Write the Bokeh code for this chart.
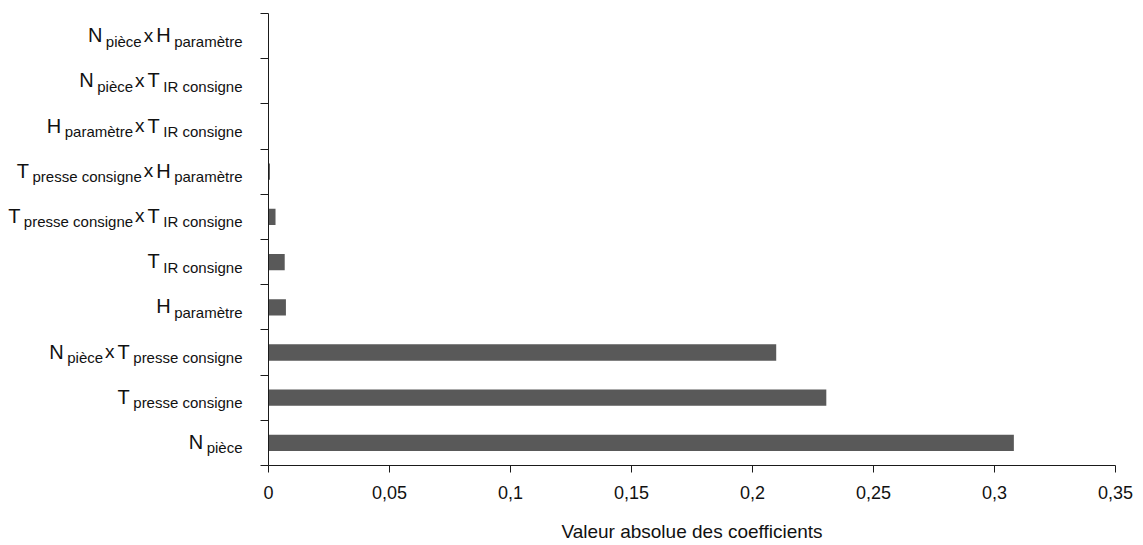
from bokeh.plotting import figure
from bokeh.layouts import row
from bokeh.models import Range1d, FixedTicker, CustomJSTickFormatter, ColumnDataSource
from bokeh.core.properties import value
from bokeh.embed import file_html
from bokeh.resources import INLINE

# ---------------- data (bottom category first) ----------------
terms = [
    [("N", "pièce")],
    [("T", "presse consigne")],
    [("N", "pièce"), ("T", "presse consigne")],
    [("H", "paramètre")],
    [("T", "IR consigne")],
    [("T", "presse consigne"), ("T", "IR consigne")],
    [("T", "presse consigne"), ("H", "paramètre")],
    [("H", "paramètre"), ("T", "IR consigne")],
    [("N", "pièce"), ("T", "IR consigne")],
    [("N", "pièce"), ("H", "paramètre")],
]
coefficients = [0.308, 0.2305, 0.2098, 0.0072, 0.0067, 0.0029, 0.0006, 0.0, 0.0, 0.0]
x_ticks = [0, 0.05, 0.1, 0.15, 0.2, 0.25, 0.3, 0.35]
x_max = 0.35
x_title = "Valeur absolue des coefficients"

# ---------------- style ----------------
FONT = "Liberation Sans"
MAIN = 20
SUB = 15
CROSS = 19
TXT = "#111111"
BAR = "#595959"
AX = "#1a1a1a"

LABEL_W = 258      # width of the label panel
AXIS_GAP = 10      # left border of the chart (room for the y ticks)
TOP = 13
FRAME_H = 452
BOTTOM = 80

n = len(terms)
y_pos = [i + 0.5 for i in range(n)]
y_range = Range1d(0, n)

# ---------------- chart ----------------
p = figure(
    frame_width=847, frame_height=FRAME_H,
    x_range=Range1d(0, x_max), y_range=y_range,
    output_backend="svg", toolbar_location=None,
    min_border_left=AXIS_GAP, min_border_top=TOP, min_border_right=25,
    min_border_bottom=BOTTOM,
)
p.outline_line_color = None
p.grid.visible = False
p.background_fill_color = "white"
p.border_fill_color = "white"

p.hbar(y=y_pos, right=coefficients, left=0, height=0.36, fill_color=BAR, line_color=None)

xa = p.xaxis[0]
xa.ticker = FixedTicker(ticks=x_ticks)
xa.formatter = CustomJSTickFormatter(code="""
    const s = (Math.round(tick * 100) / 100).toString();
    return s.replace('.', ',');
""")
xa.minor_tick_line_color = None
xa.major_tick_out = 7
xa.major_tick_in = 0
xa.major_label_standoff = 13
xa.major_label_text_font = FONT
xa.major_label_text_font_size = "18px"
xa.major_label_text_color = TXT
xa.axis_line_color = AX
xa.major_tick_line_color = AX
xa.axis_label = x_title
xa.axis_label_text_font = FONT
xa.axis_label_text_font_size = "19px"
xa.axis_label_text_font_style = "normal"
xa.axis_label_text_color = TXT
xa.axis_label_standoff = 19

ya = p.yaxis[0]
ya.ticker = FixedTicker(ticks=list(range(n + 1)))
ya.formatter = CustomJSTickFormatter(code="return '';")
ya.major_label_standoff = 0
ya.minor_tick_line_color = None
ya.major_tick_out = 8
ya.major_tick_in = 0
ya.axis_line_color = AX
ya.major_tick_line_color = AX

# ---------------- category labels (with subscripts) ----------------
lab = figure(
    frame_width=LABEL_W, frame_height=FRAME_H,
    x_range=Range1d(-LABEL_W, 0), y_range=y_range,
    output_backend="svg", toolbar_location=None,
    x_axis_type=None, y_axis_type=None,
    min_border_left=0, min_border_right=0, min_border_top=TOP,
    min_border_bottom=BOTTOM,
)
lab.outline_line_color = None
lab.background_fill_color = "white"
lab.border_fill_color = "white"

WID = {'N': .722, 'T': .611, 'H': .722, 'x': .5, ' ': .278, 'p': .556, 'i': .222,
       'è': .556, 'c': .5, 'e': .556, 'r': .333, 's': .5, 'o': .556, 'n': .556,
       'g': .556, 'I': .278, 'R': .722, 'a': .556, 'm': .833, 't': .278}


def tw(s, size):
    return sum(WID.get(ch, .556) for ch in s) * size


MAIN_DY = -1          # screen offset of the main-letter baseline
SUB_DY = MAIN_DY + 6  # subscripts sit lower
SUB_GAP = 3.5         # space between a letter and its subscript
X_PRE = 2.0           # space before the "x"
X_POST = 3.0          # space after the "x"
RIGHT = -(26 - AXIS_GAP)   # right end of each label, relative to the panel edge

groups = {MAIN: dict(x=[], y=[], text=[], xo=[], yo=[]),
          SUB: dict(x=[], y=[], text=[], xo=[], yo=[]),
          CROSS: dict(x=[], y=[], text=[], xo=[], yo=[])}

for yc, parts in zip(y_pos, terms):
    runs = []  # (text, size, dy, advance, pre_gap)
    for k, (big, small) in enumerate(parts):
        if k > 0:
            runs.append(("x", CROSS, MAIN_DY, tw("x", CROSS) + X_POST, X_PRE))
        runs.append((big, MAIN, MAIN_DY, tw(big, MAIN), 0))
        runs.append((small, SUB, SUB_DY, tw(small, SUB), SUB_GAP))
    total = sum(r[3] + r[4] for r in runs)
    xcur = RIGHT - total
    for text, size, dy, adv, pre in runs:
        xcur += pre
        d = groups[size]
        d["x"].append(0)
        d["y"].append(yc)
        d["text"].append(text)
        d["xo"].append(xcur)
        d["yo"].append(dy)
        xcur += adv

for size, d in groups.items():
    lab.text(x="x", y="y", text="text", x_offset="xo", y_offset="yo",
             source=ColumnDataSource(d), text_font=value(FONT),
             text_font_size=value(f"{size}px"), text_color=TXT,
             text_align="left", text_baseline="alphabetic")

layout = row(lab, p)
open("out.html", "w").write(file_html(layout, INLINE))
